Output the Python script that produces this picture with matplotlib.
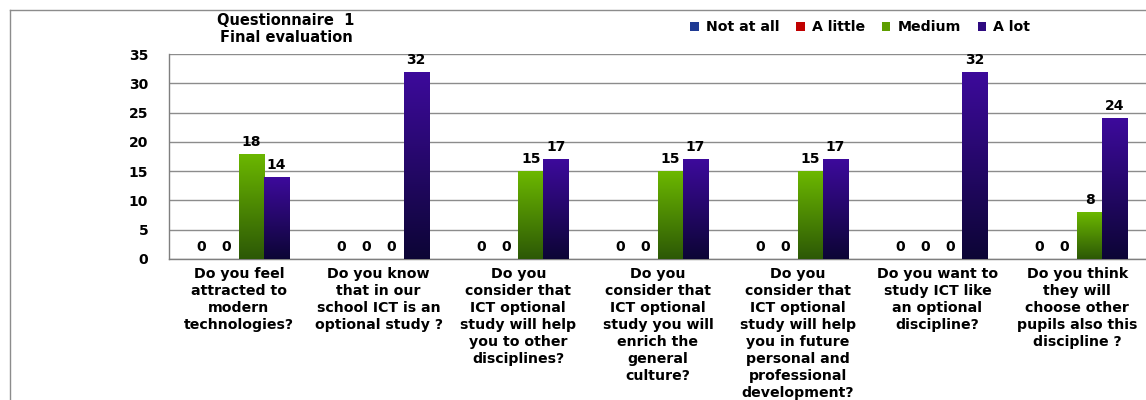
import numpy as np
import matplotlib
matplotlib.use("Agg")
import matplotlib.pyplot as plt
from matplotlib.colors import LinearSegmentedColormap
from matplotlib.patches import Patch
from matplotlib.lines import Line2D

questions = [
    "Do you feel\nattracted to\nmodern\ntechnologies?",
    "Do you know\nthat in our\nschool ICT is an\noptional study ?",
    "Do you\nconsider that\nICT optional\nstudy will help\nyou to other\ndisciplines?",
    "Do you\nconsider that\nICT optional\nstudy you will\nenrich the\ngeneral\nculture?",
    "Do you\nconsider that\nICT optional\nstudy will help\nyou in future\npersonal and\nprofessional\ndevelopment?",
    "Do you want to\nstudy ICT like\nan optional\ndiscipline?",
    "Do you think\nthey will\nchoose other\npupils also this\ndiscipline ?",
]
series_names = ["Not at all", "A little", "Medium", "A lot"]
not_at_all = [0, 0, 0, 0, 0, 0, 0]
a_little = [0, 0, 0, 0, 0, 0, 0]
medium = [18, 0, 15, 15, 15, 0, 8]
a_lot = [14, 32, 17, 17, 17, 32, 24]
yticks = [0, 5, 10, 15, 20, 25, 30, 35]

# solid colour + (bottom, top) gradient for each series
colors = ["#1f3a93", "#c00000", "#5e9e00", "#2e0a80"]
gradients = [None, None, ("#2c5806", "#6cb800"), ("#0c0535", "#3d0a9c")]

plt.rcParams["font.family"] = "DejaVu Sans"
plt.rcParams["font.weight"] = "bold"

fig = plt.figure(figsize=(11.46, 4.0), dpi=100)
ax = fig.add_axes([169 / 1146, 141 / 400, 978 / 1146, 205 / 400])

x = np.arange(len(questions))
w = 0.179
values = [not_at_all, a_little, medium, a_lot]
ax.set_xlim(-0.5, len(questions) - 0.5)
ax.set_ylim(0, 35)

for i, (name, vals) in enumerate(zip(series_names, values)):
    offs = (i - 1.5) * w
    bars = ax.bar(x + offs, vals, w, color=colors[i], label=name, zorder=2,
                  linewidth=0)
    if gradients[i] is not None:
        cmap = LinearSegmentedColormap.from_list(name, list(gradients[i]))
        grad = np.linspace(0, 1, 256).reshape(-1, 1)
        for b in bars:
            h = b.get_height()
            if h <= 0:
                continue
            x0 = b.get_x()
            im = ax.imshow(grad, cmap=cmap, origin="lower", aspect="auto",
                           extent=(x0, x0 + w, 0, h), zorder=3)
            im.set_clip_path(b)
    for xi, v in zip(x + offs, vals):
        ax.annotate(f"{v}", (xi, v), xytext=(0, 12), textcoords="offset pixels",
                    ha="center", va="center", fontsize=10, fontweight="bold",
                    zorder=4)

ax.set_xlim(-0.5, len(questions) - 0.5)
ax.set_ylim(0, 35)
ax.set_yticks(yticks)
ax.set_xticks(x)
ax.set_xticklabels(questions, fontsize=10.2, fontweight="bold", va="top",
                   linespacing=1.27)
ax.tick_params(axis="x", length=0, pad=6)
ax.tick_params(axis="y", length=0, pad=15, labelsize=10)
for t in ax.get_yticklabels():
    t.set_fontweight("bold")

ax.yaxis.grid(True, color="#8c8c8c", linewidth=1)
ax.set_axisbelow(True)
for side in ["top", "right"]:
    ax.spines[side].set_visible(False)
for side in ["left", "bottom"]:
    ax.spines[side].set_color("#7f7f7f")
    ax.spines[side].set_linewidth(1)

fig.text(286 / 1146, 1 - 29 / 400, "Questionnaire  1\nFinal evaluation",
         ha="center", va="center", fontsize=10.5, fontweight="bold",
         linespacing=1.15)

handles = [Patch(facecolor=c, edgecolor="none") for c in colors]
fig.legend(handles, series_names, loc="center left",
           bbox_to_anchor=(690 / 1146, 1 - 27 / 400), ncol=4, frameon=False,
           prop={"weight": "bold", "size": 10.2},
           handlelength=0.6, handleheight=0.6, handletextpad=0.5,
           columnspacing=1.2, borderpad=0, borderaxespad=0)

# outer chart frame
fig.add_artist(Line2D([10 / 1146, 1.0], [1 - 10 / 400, 1 - 10 / 400],
                      transform=fig.transFigure, color="#8c8c8c", lw=1))
fig.add_artist(Line2D([10 / 1146, 10 / 1146], [0, 1 - 10 / 400],
                      transform=fig.transFigure, color="#8c8c8c", lw=1))

fig.savefig("out.png", dpi=100)
